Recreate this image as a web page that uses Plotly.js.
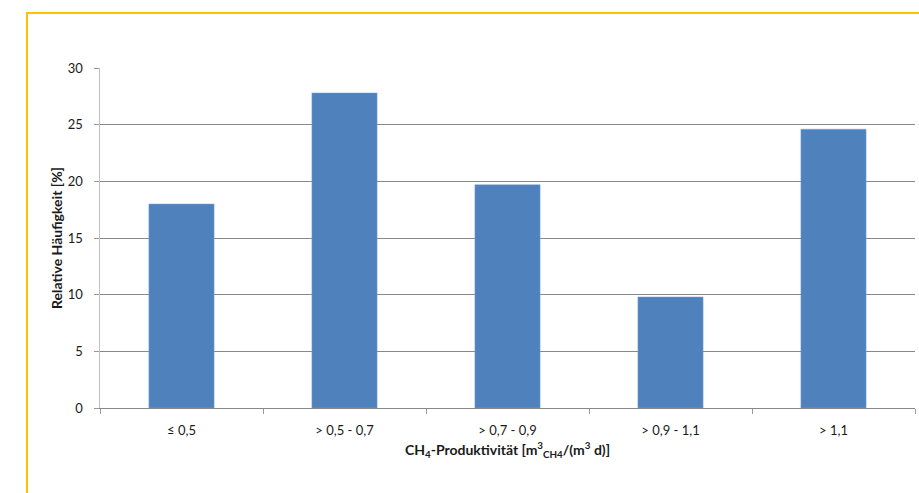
<!DOCTYPE html>
<html>
<head>
<meta charset="utf-8">
<script src="https://cdn.plot.ly/plotly-3.0.1.min.js"></script>
<style>
  html, body { margin: 0; padding: 0; background: #fff; overflow: hidden; }
  #frame { position: absolute; left: 26px; top: 12px; width: 1000px; height: 600px;
           border-left: 2px solid #FFC000; border-top: 2px solid #FFC000; pointer-events: none; z-index: 5; }
  #chart { position: absolute; left: 0; top: 0; width: 919px; height: 493px; }
</style>
</head>
<body>
<div id="chart"></div>
<div id="frame"></div>
<script>
const categories = ["≤ 0,5", "> 0,5 - 0,7", "> 0,7 - 0,9", "> 0,9 - 1,1", "> 1,1"];
const values = [18.0, 27.8, 19.7, 9.8, 24.6];
const yTicks = [0, 5, 10, 15, 20, 25, 30];

const fontFam = "Lato, 'Open Sans', 'DejaVu Sans', sans-serif";

Plotly.newPlot("chart", [{
  type: "bar",
  x: categories,
  y: values,
  marker: { color: "#4F81BD", line: { color: "#7FA3D1", width: 0.5 } },
  hoverinfo: "skip"
}], {
  width: 919, height: 493,
  margin: { l: 100, r: 4, t: 68, b: 85 },
  paper_bgcolor: "#ffffff", plot_bgcolor: "#ffffff",
  bargap: 0.6,
  showlegend: false,
  font: { family: fontFam, size: 13, color: "#1a1a1a" },
  xaxis: {
    type: "category",
    tickson: "boundaries",
    ticks: "outside", ticklen: 5, tickcolor: "#999",
    showline: true, linecolor: "#888", linewidth: 1,
    showgrid: false, zeroline: false,
    ticklabelstandoff: 10,
    tickfont: { size: 13, color: "#1a1a1a", family: fontFam },
    title: { text: "<b>CH<sub>4</sub>-Produktivität [m<sup>3</sup><sub>CH4</sub>/(m<sup>3</sup> d)]</b>",
             font: { size: 14, color: "#1a1a1a", family: fontFam }, standoff: 8 }
  },
  yaxis: {
    range: [0, 30],
    tickvals: yTicks,
    ticktext: yTicks.map(String),
    ticks: "outside", ticklen: 5, tickcolor: "#999",
    showline: true, linecolor: "#BFBFBF", linewidth: 1.5,
    showgrid: true, gridcolor: "#888", gridwidth: 1,
    zeroline: false,
    ticklabelstandoff: 8,
    tickfont: { size: 13, color: "#1a1a1a", family: fontFam },
    title: { text: "<b>Relative Häufigkeit [%]</b>", font: { size: 14, color: "#1a1a1a", family: fontFam }, standoff: 2 }
  }
}, { displayModeBar: false, staticPlot: true });
</script>
</body>
</html>
